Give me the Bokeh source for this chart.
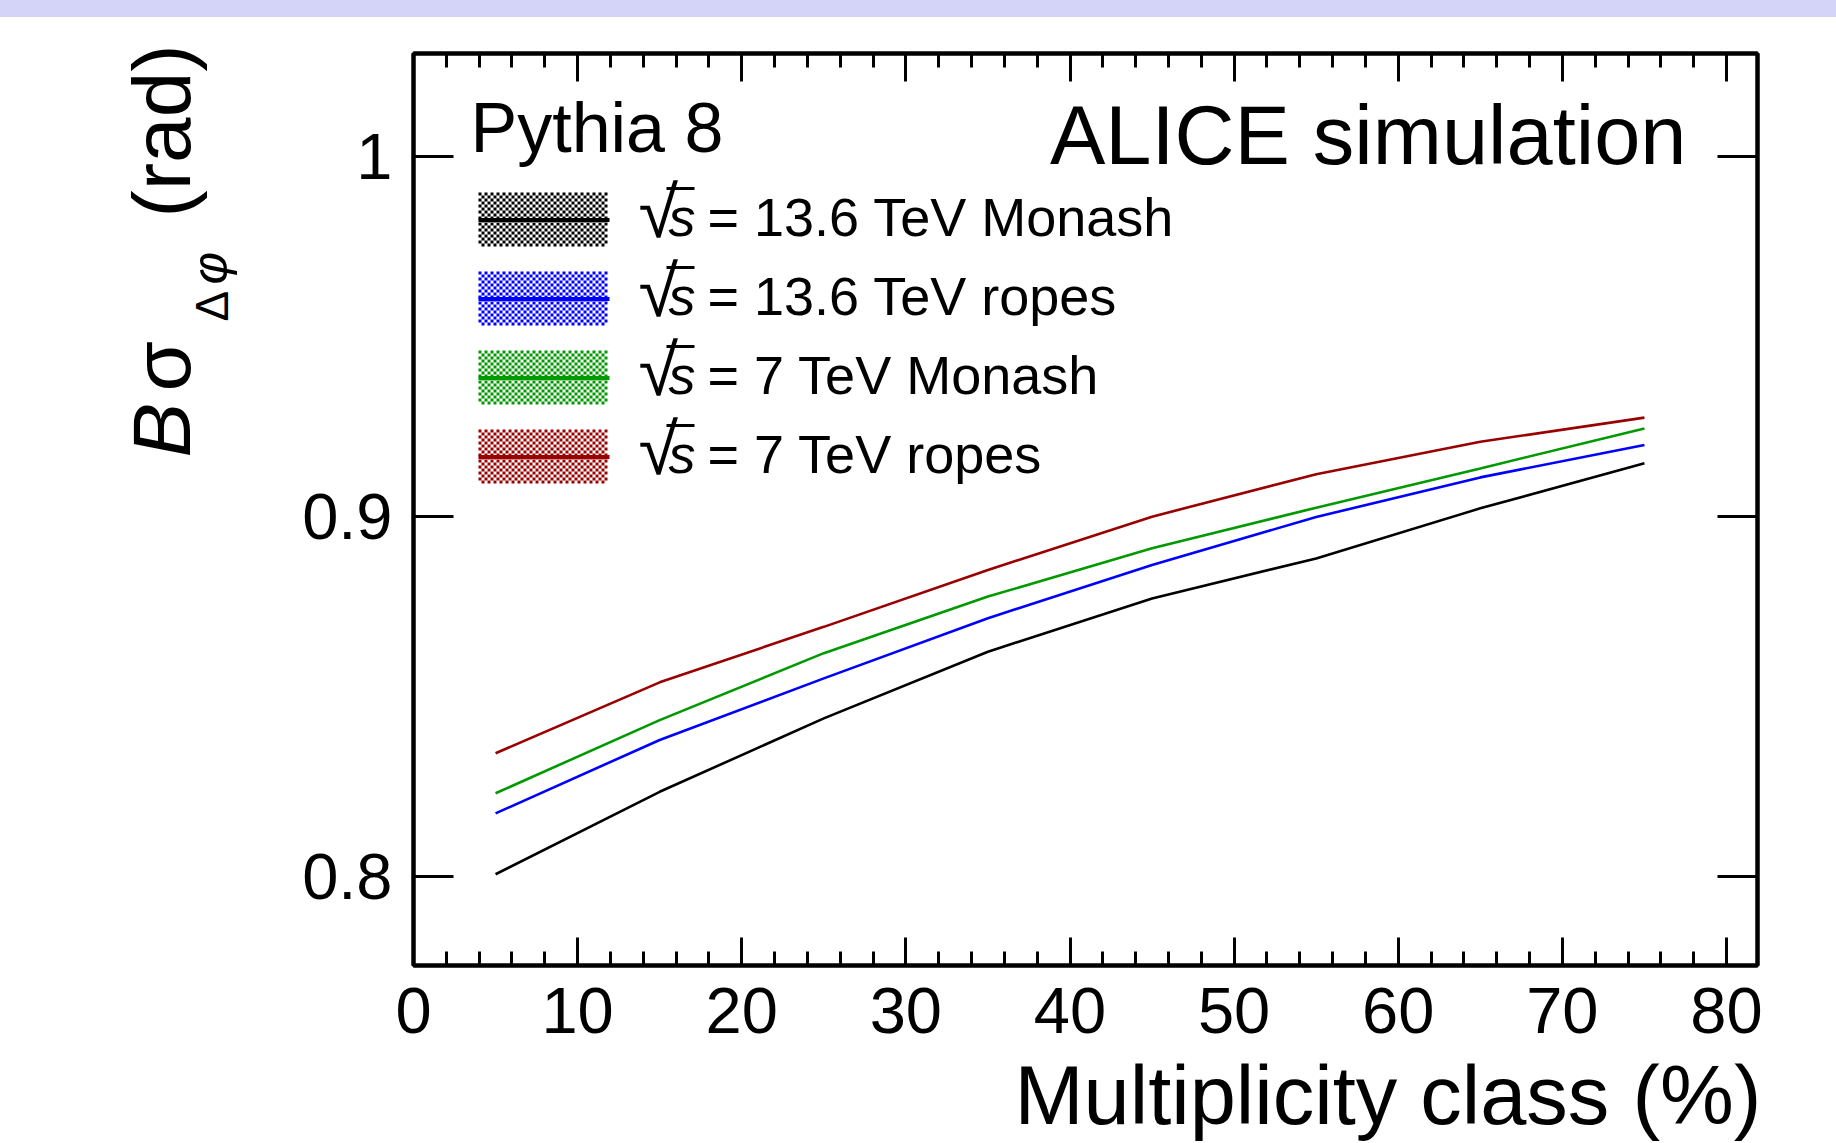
import math
from bokeh.plotting import figure
from bokeh.models import Range1d, LinearAxis, FixedTicker, Label, Div
from bokeh.layouts import column, row
from bokeh.embed import file_html
from bokeh.resources import INLINE

# ---------------- data ----------------
mult_class = [5, 15, 25, 35, 45, 55, 65, 75]
b_sigma_136_monash = [0.8007, 0.8236, 0.8440, 0.8625, 0.8773, 0.8884, 0.9023, 0.9148]
b_sigma_136_ropes = [0.8176, 0.8380, 0.8551, 0.8718, 0.8866, 0.8999, 0.9109, 0.9199]
b_sigma_7_monash = [0.8232, 0.8435, 0.8621, 0.8778, 0.8912, 0.9025, 0.9134, 0.9245]
b_sigma_7_ropes = [0.8343, 0.8540, 0.8694, 0.8852, 0.9000, 0.9118, 0.9208, 0.9275]
series_labels = ["= 13.6 TeV Monash", "= 13.6 TeV ropes", "= 7 TeV Monash", "= 7 TeV ropes"]
series_colors = ["#000000", "#0000ff", "#009900", "#990000"]
x_ticks = [0, 10, 20, 30, 40, 50, 60, 70, 80]
x_minor_ticks = [v for v in range(0, 82, 2) if v % 10 != 0]
y_ticks = [0.8, 0.9, 1.0]
y_tick_labels = {0.8: "0.8", 0.9: "0.9", 1: "1"}

# ---------------- layout ----------------
W, H = 1836, 1143
BAND = 17          # lavender strip on top
YW = 250           # strip holding the rotated y title
SPLIT = 1063       # page y where the x-title strip starts
FL, FR, FT, FB = 413, 1757, 53, 965
XMAX = 80 * (FR - FL) / (1726 - FL)
Y08, Y10 = 876.3, 156.0
PPU = (Y08 - Y10) / 0.2
YMAX = 1.0 + (Y10 - FT) / PPU
YMIN = 0.8 - (FB - Y08) / PPU
FONT = "Liberation Sans"


def X(px):
    return (px - FL) / (FR - FL) * XMAX


def Y(py):
    return YMAX - (py - FT) / (FB - FT) * (YMAX - YMIN)


def off(size):
    # Bokeh draws an "alphabetic" label a little below its anchor; compensate
    return 0.479 * size - 7.8


p = figure(width=W - YW, height=SPLIT - BAND, x_range=Range1d(0, XMAX), y_range=Range1d(YMIN, YMAX),
           output_backend="svg", toolbar_location=None,
           x_axis_location=None, y_axis_location=None,
           min_border_left=FL - YW, min_border_right=W - FR,
           min_border_top=FT - BAND, min_border_bottom=SPLIT - FB)
p.grid.visible = False
p.background_fill_color = "white"
p.border_fill_color = "white"
p.outline_line_color = "black"
p.outline_line_width = 4


def mk_axis(ticks, minor, tin, min_in, labels, standoff):
    ax = LinearAxis(ticker=FixedTicker(ticks=ticks, minor_ticks=minor))
    ax.axis_line_color = "black"
    ax.axis_line_width = 4
    ax.major_tick_in = tin
    ax.major_tick_out = 0
    ax.minor_tick_in = min_in
    ax.minor_tick_out = 0
    ax.major_tick_line_width = 3
    ax.minor_tick_line_width = 3
    ax.major_label_text_font = FONT
    ax.major_label_text_font_size = "65px"
    ax.major_label_text_color = "black"
    ax.major_label_standoff = standoff
    if labels is None:
        ax.major_label_overrides = {t: "" for t in ticks}
    else:
        ax.major_label_overrides = labels
    return ax


p.add_layout(mk_axis(x_ticks, x_minor_ticks, 28, 14, {t: str(t) for t in x_ticks}, 22), "below")
p.add_layout(mk_axis(x_ticks, x_minor_ticks, 28, 14, None, 0), "above")
p.add_layout(mk_axis(y_ticks, [], 40, 0, y_tick_labels, 21), "left")
p.add_layout(mk_axis(y_ticks, [], 40, 0, None, 0), "right")

# ---------------- curves ----------------
series = [b_sigma_136_monash, b_sigma_136_ropes, b_sigma_7_monash, b_sigma_7_ropes]
for ys, c in zip(series, series_colors):
    p.line(mult_class, ys, line_color=c, line_width=2.6)


def lab(fig, x, y, text, size, italic=False, align="left", angle=0.0):
    fig.add_layout(Label(x=x, y=y, text=text, text_font=FONT,
                         text_font_size=f"{size}px",
                         text_font_style="italic" if italic else "normal",
                         text_align=align, text_baseline="alphabetic",
                         angle=angle, text_color="black"))


def plab(px, py, text, size, **kw):
    lab(p, X(px), Y(py - off(size)), text, size, **kw)


# ---------------- legend ----------------
CELL = 3
for i, (txt, c) in enumerate(zip(series_labels, series_colors)):
    bl = 235 + 79 * i
    bx0, bx1, by0, by1 = 478, 609, bl - 43, bl + 12
    cx, cy = [], []
    for ix in range((bx1 - bx0) // CELL):
        for iy in range((by1 - by0) // CELL):
            if (ix + iy) % 2 == 0:
                cx.append(X(bx0 + CELL * ix + CELL / 2))
                cy.append(Y(by0 + CELL * iy + CELL / 2))
    p.rect(x=cx, y=cy, width=CELL, height=CELL, width_units="screen", height_units="screen",
           fill_color=c, line_color=None)
    p.segment(x0=X(bx0), x1=X(bx1), y0=Y(bl - 15.5), y1=Y(bl - 15.5), line_color=c, line_width=4)
    plab(638, bl + 3, "√", 72)
    p.segment(x0=X(666), x1=X(694), y0=Y(bl - 47), y1=Y(bl - 47), line_color="black", line_width=3)
    plab(668, bl, "s", 54, italic=True)
    plab(707, bl, txt, 54)

# ---------------- texts inside the frame ----------------
plab(470, 153, "Pythia 8", 70)
plab(1686, 167, "ALICE simulation", 83, align="right")

# ---------------- rotated y title (own strip) ----------------
yfig = figure(width=YW, height=H - BAND, x_range=Range1d(0, YW), y_range=Range1d(H - BAND, 0),
              output_backend="svg", toolbar_location=None,
              x_axis_location=None, y_axis_location=None, min_border=0)
yfig.grid.visible = False
yfig.outline_line_color = None
A = math.pi / 2


def ylab(bx, py, text, size, **kw):
    lab(yfig, bx - off(size), py - BAND, text, size, angle=A, **kw)


ylab(192, 457, "B", 82, italic=True)
ylab(192, 391, "σ", 82)
ylab(226, 321, "Δ", 46)
ylab(226, 284, "φ", 50, italic=True)
ylab(192, 217, "(rad)", 82)

# ---------------- x title (own strip; its frame is aligned with the main frame) ----------------
XH = H - SPLIT
xfig = figure(width=W - YW, height=XH, x_range=Range1d(FL, FR), y_range=Range1d(XH, 0),
              output_backend="svg", toolbar_location=None,
              x_axis_location=None, y_axis_location=None, min_border=0)
xfig.grid.visible = False
xfig.outline_line_color = None
lab(xfig, FR + 4, 1127 - SPLIT - off(83), "Multiplicity class (%)", 83, align="right")

band = Div(text="", width=W, height=BAND, margin=0,
           styles={"background-color": "#d4d4f8"})
layout = column(band, row(yfig, column(p, xfig, spacing=0), spacing=0), spacing=0)

open("out.html", "w").write(file_html(layout, INLINE))
